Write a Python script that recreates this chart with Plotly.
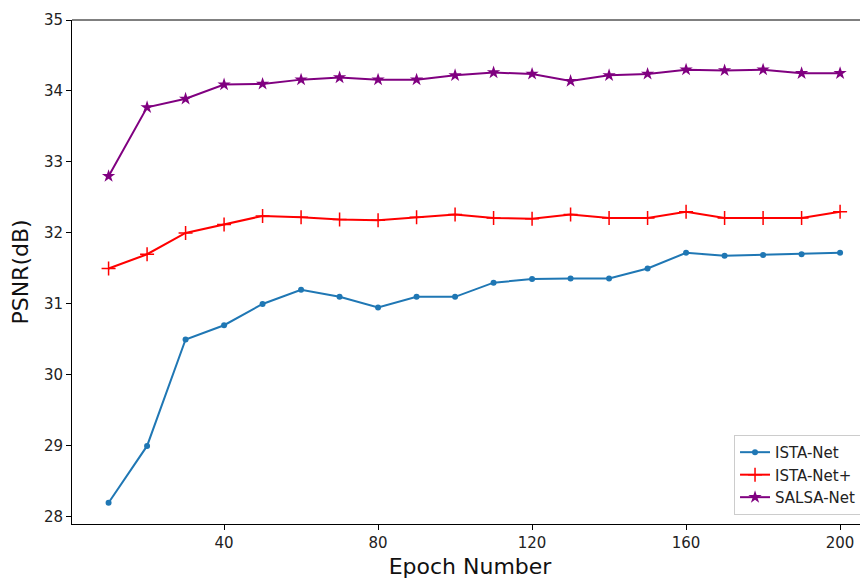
import plotly.graph_objects as go

epochs = [10, 20, 30, 40, 50, 60, 70, 80, 90, 100, 110, 120, 130, 140, 150, 160, 170, 180, 190, 200]
ista_net = [28.2, 29.0, 30.5, 30.7, 31.0, 31.2, 31.1, 30.95, 31.1, 31.1, 31.3, 31.35, 31.36, 31.36, 31.5, 31.72, 31.68, 31.69, 31.70, 31.72]
ista_net_plus = [31.5, 31.7, 32.0, 32.12, 32.24, 32.22, 32.19, 32.18, 32.22, 32.26, 32.21, 32.2, 32.26, 32.21, 32.21, 32.3, 32.21, 32.21, 32.21, 32.3]
salsa_net = [32.8, 33.77, 33.89, 34.09, 34.1, 34.16, 34.19, 34.16, 34.16, 34.22, 34.26, 34.24, 34.14, 34.22, 34.24, 34.3, 34.29, 34.3, 34.25, 34.25]
x_ticks = [40, 80, 120, 160, 200]
y_ticks = [28, 29, 30, 31, 32, 33, 34, 35]

fig = go.Figure()
fig.add_trace(go.Scatter(x=epochs, y=ista_net, name="ISTA-Net", mode="lines+markers",
                         line=dict(color="#1f77b4", width=2),
                         marker=dict(symbol="circle", size=6, color="#1f77b4")))
fig.add_trace(go.Scatter(x=epochs, y=ista_net_plus, name="ISTA-Net+", mode="lines+markers",
                         line=dict(color="red", width=2),
                         marker=dict(symbol="cross-thin", size=10, color="red",
                                     line=dict(color="red", width=1.5))))
fig.add_trace(go.Scatter(x=epochs, y=salsa_net, name="SALSA-Net", mode="lines+markers",
                         line=dict(color="purple", width=2),
                         marker=dict(symbol="star", size=10, color="purple")))

font_family = "DejaVu Sans"
fig.update_layout(
    width=860, height=571,
    margin=dict(l=64, r=0, t=12, b=55),
    paper_bgcolor="white", plot_bgcolor="white",
    font=dict(family=font_family, color="#222222", size=15),
    legend=dict(x=0.9925, y=0.018, xanchor="right", yanchor="bottom",
                bgcolor="rgba(255,255,255,0.8)", bordercolor="#cccccc", borderwidth=1,
                font=dict(size=15, color="#222222"), tracegroupgap=2),
    xaxis=dict(range=[0.5, 207.25], tickvals=x_ticks, showgrid=False, zeroline=False,
               showline=True, linecolor="black", linewidth=1,
               ticks="outside", ticklen=5, tickcolor="black",
               tickfont=dict(size=15, color="#222222"),
               title=dict(text="Epoch Number", font=dict(size=22, color="#111111"), standoff=8)),
    yaxis=dict(range=[27.9, 35], tickvals=y_ticks, showgrid=False, zeroline=False,
               showline=True, linecolor="black", linewidth=1,
               ticks="outside", ticklen=5, tickcolor="black",
               tickfont=dict(size=15, color="#222222"),
               title=dict(text="PSNR(dB)", font=dict(size=22, color="#111111"), standoff=14)),
)
fig.add_shape(type="line", xref="paper", yref="paper", x0=0, x1=1, y0=1, y1=1,
              line=dict(color="black", width=1))

fig.write_html("out.html")
